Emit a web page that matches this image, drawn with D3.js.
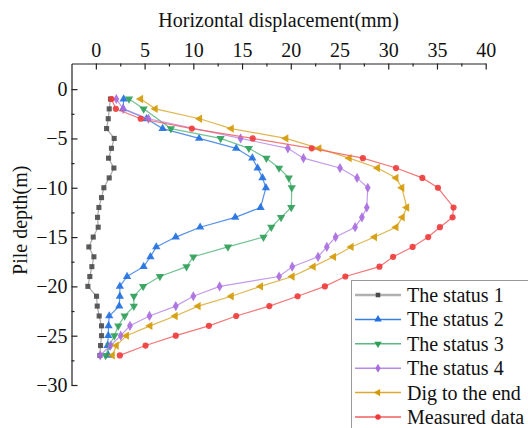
<!DOCTYPE html>
<html><head><meta charset="utf-8">
<script src="https://cdn.jsdelivr.net/npm/d3@7/dist/d3.min.js"></script>
<style>
html,body{margin:0;padding:0;background:#fff;}
svg{display:block;font-family:"Liberation Serif","Times New Roman",serif;}
</style></head>
<body>
<svg id="chart" width="528" height="428"></svg>
<script>
const depths = [-1,-2,-3,-4,-5,-6,-7,-8,-9,-10,-11,-12,-13,-14,-15,-16,-17,-18,-19,-20,-21,-22,-23,-24,-25,-26,-27];
const status1 = [1.5,1.37,1.27,1.1,1.88,1.6,1.3,1.85,1.37,0.82,0.58,0.31,0.17,0.24,-0.27,-0.72,-0.2,-0.41,-0.62,-0.82,0.07,0.14,0.34,0.58,0.58,0.48,0.41];
const status2 = [2.85,2.8,5.2,6.85,10.6,14.4,16.05,16.6,17.1,17.45,null,16.9,14.3,10.7,8.2,6.2,5.6,4.9,3.2,2.46,2.46,2.4,1.37,1.3,1.27,1.2,1.27];
const status3 = [3.4,4.9,null,7.7,12.8,15.7,17.5,18.8,19.8,20.1,null,20.05,19.0,18.0,17.2,13.55,10.0,9.3,6.57,4.85,3.9,3.9,2.95,2.3,1.9,1.4,1.0];
const status4 = [2.1,2.8,5.4,null,14.85,19.7,21.3,25.05,26.8,27.9,null,27.8,27.3,26.6,24.6,23.7,22.8,20.15,18.8,12.7,10.0,8.2,5.5,3.5,2.55,1.5,0.45];
const digEnd = [4.6,6.1,10.65,13.9,19.5,22.9,26.0,28.9,30.8,31.4,null,31.9,31.45,30.8,28.6,26.2,24.4,22.3,20.15,16.9,13.9,10.5,8.15,5.55,3.15,2.1,1.7];
const measured = [1.6,2.05,4.6,9.85,16.1,22.15,27.4,30.8,33.5,35.1,null,36.7,36.6,35.3,34.1,32.5,30.5,29.1,25.6,23.5,20.7,17.8,14.4,11.6,8.2,5.1,2.46];
const seriesNames = ["The status 1","The status 2","The status 3","The status 4","Dig to the end","Measured data"];
const xTicks = [0,5,10,15,20,25,30,35,40];
const yTicks = [0,-5,-10,-15,-20,-25,-30];

const seriesValues = [status1,status2,status3,status4,digEnd,measured];
const markerColors = ["#4a4a4a","#1f6fe0","#2e9e58","#a96ce0","#d49a06","#ee3a3a"];
const lineColors = ["#9a9a9a","#3a7fe0","#5cb882","#b88ae6","#d9aa33","#f06060"];
const symbols = [
  {t:d3.symbolSquare, r:0, s:26},
  {t:d3.symbolTriangle, r:0, s:30},
  {t:d3.symbolTriangle, r:180, s:30},
  {t:d3.symbolDiamond, r:0, s:30},
  {t:d3.symbolTriangle, r:-90, s:30},
  {t:d3.symbolCircle, r:0, s:30}
];

const svg = d3.select("#chart");
const x = d3.scaleLinear().domain([-2.5,40]).range([71.5,485.7]);
const y = d3.scaleLinear().domain([2.6,-30]).range([63.5,385]);

// series
const line = d3.line().x(d=>x(d.v)).y(d=>y(d.d));
seriesValues.forEach((vals,i)=>{
  const pts = depths.map((d,j)=>({d:d,v:vals[j]})).filter(p=>p.v!==null);
  const g = svg.append("g");
  g.append("path").datum(pts).attr("d",line)
    .attr("fill","none").attr("stroke",lineColors[i]).attr("stroke-width",1.2).attr("stroke-opacity",0.85);
  const sym = d3.symbol().type(symbols[i].t).size(symbols[i].s);
  g.selectAll("path.m").data(pts).join("path").attr("class","m")
    .attr("d",sym)
    .attr("transform",p=>`translate(${x(p.v)},${y(p.d)}) rotate(${symbols[i].r})`)
    .attr("fill",markerColors[i]).attr("fill-opacity",0.9);
});

// axes
const fontSize = 20;
const topAxis = d3.axisTop(x).tickValues(xTicks).tickSizeInner(-6).tickSizeOuter(0).tickPadding(7).tickFormat(d3.format("d"));
const topMinor = d3.axisTop(x).tickValues([2.5,7.5,12.5,17.5,22.5,27.5,32.5,37.5]).tickSizeInner(-3).tickSizeOuter(0).tickFormat("");
const gTop = svg.append("g").attr("transform",`translate(0,${y.range()[0]})`).call(topAxis);
svg.append("g").attr("transform",`translate(0,${y.range()[0]})`).call(topMinor).select(".domain").remove();
const leftAxis = d3.axisLeft(y).tickValues(yTicks).tickSizeInner(-6).tickSizeOuter(0).tickPadding(4).tickFormat(d3.format("d"));
const leftMinor = d3.axisLeft(y).tickValues([-2.5,-7.5,-12.5,-17.5,-22.5,-27.5]).tickSizeInner(-3).tickSizeOuter(0).tickFormat("");
const gLeft = svg.append("g").attr("transform",`translate(${x.range()[0]},0)`).call(leftAxis);
svg.append("g").attr("transform",`translate(${x.range()[0]},0)`).call(leftMinor).select(".domain").remove();
svg.selectAll(".tick text").attr("font-size",fontSize).attr("font-family","Liberation Serif, Times New Roman, serif").attr("fill","#111");
svg.selectAll(".domain,.tick line").attr("stroke","#222").attr("stroke-width",1.2);

// titles
svg.append("text").attr("x",(x.range()[0]+x.range()[1])/2).attr("y",27)
  .attr("text-anchor","middle").attr("font-size",fontSize).attr("fill","#111")
  .text("Horizontal displacement(mm)");
svg.append("text").attr("transform",`translate(27,${(y.range()[0]+y.range()[1])/2-4}) rotate(-90)`)
  .attr("text-anchor","middle").attr("font-size",fontSize).attr("fill","#111")
  .text("Pile depth(m)");

// legend
const lg = svg.append("g");
lg.append("rect").attr("x",351.5).attr("y",280.5).attr("width",200).attr("height",160)
  .attr("fill","#fff").attr("stroke","#999").attr("stroke-width",1);
const rowY = d3.scalePoint().domain(seriesNames).range([295,417]);
seriesNames.forEach((name,i)=>{
  const cy = rowY(name);
  lg.append("line").attr("x1",355).attr("x2",401).attr("y1",cy).attr("y2",cy)
    .attr("stroke",i===0?"#b0b0b0":lineColors[i]).attr("stroke-width",i===0?2.5:1.5);
  lg.append("path").attr("d",d3.symbol().type(symbols[i].t).size(symbols[i].s*0.8)())
    .attr("transform",`translate(378,${cy}) rotate(${symbols[i].r})`).attr("fill",markerColors[i]);
  lg.append("text").attr("x",407).attr("y",cy).attr("dy","0.35em")
    .attr("font-size",fontSize).attr("fill","#111").text(name);
});
</script>
</body></html>
